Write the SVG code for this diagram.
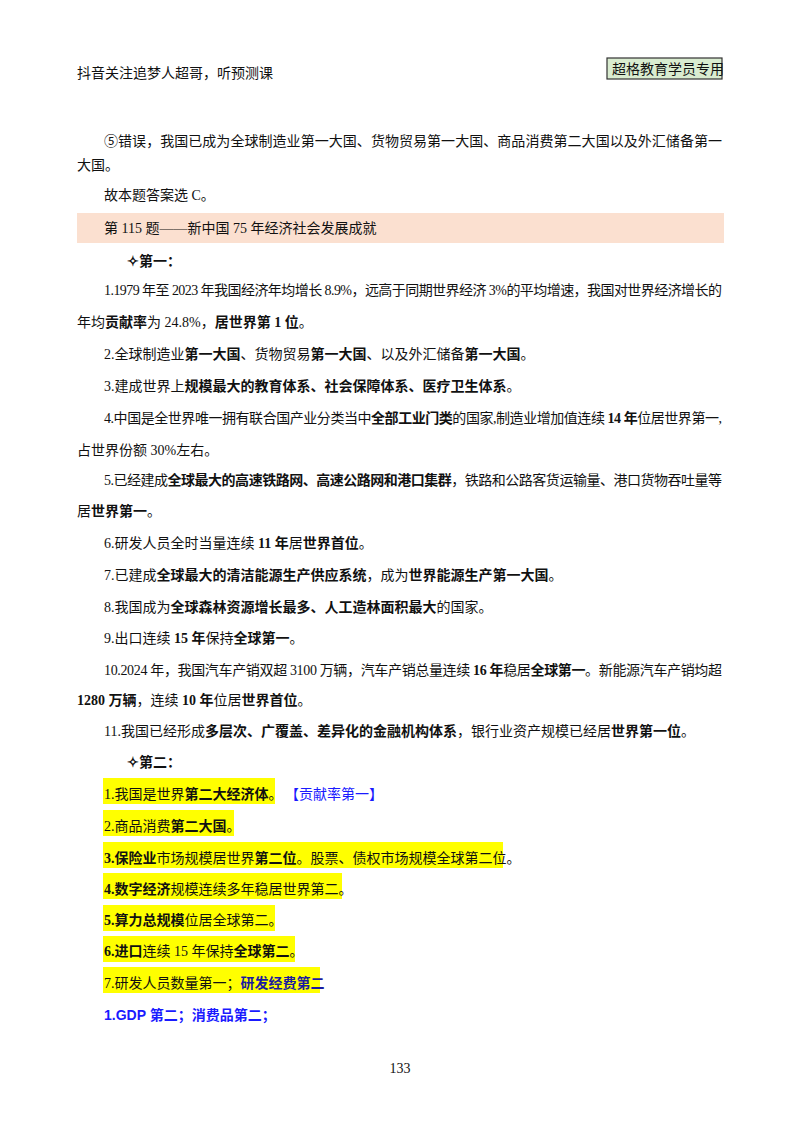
<svg xmlns="http://www.w3.org/2000/svg" width="800" height="1132" viewBox="0 0 800 1132">
<style>
text{font-family:"Liberation Serif","Noto Sans CJK SC",serif;font-size:14px;fill:#111}
.b{font-weight:bold}
.blue{fill:#1a1aff}
.hl{fill:#ffff00}
.s{font-family:"Liberation Sans","Noto Sans CJK SC",sans-serif}
</style>
<rect width="800" height="1132" fill="#fff"/>
<g id="header">
<text x="77" y="78">抖音关注追梦人超哥，听预测课</text>
<rect x="607" y="58" width="115" height="21" fill="#d9ecd0" stroke="#333" stroke-width="1.2"/>
<text x="612" y="74">超格教育学员专用</text>
</g>
<g id="intro">
<text x="104" y="146" textLength="618" lengthAdjust="spacing">⑤错误，我国已成为全球制造业第一大国、货物贸易第一大国、商品消费第二大国以及外汇储备第一</text>
<text x="77" y="170">大国。</text>
<text x="104" y="200">故本题答案选 C。</text>
<rect x="77" y="213" width="647" height="30" fill="#fbe0d0"/>
<text x="104" y="233">第 115 题——新中国 75 年经济社会发展成就</text>
</g>
<g id="first">
<text x="127" y="266" class="b">✧第一：</text>
<text x="104" y="295" textLength="618" lengthAdjust="spacing">1.1979 年至 2023 年我国经济年均增长 8.9%，远高于同期世界经济 3%的平均增速，我国对世界经济增长的</text>
<text x="77" y="327">年均<tspan class="b">贡献率</tspan>为 24.8%，<tspan class="b">居世界第 1 位</tspan>。</text>
<text x="104" y="359">2.全球制造业<tspan class="b">第一大国</tspan>、货物贸易<tspan class="b">第一大国</tspan>、以及外汇储备<tspan class="b">第一大国</tspan>。</text>
<text x="104" y="391">3.建成世界上<tspan class="b">规模最大的教育体系、社会保障体系、医疗卫生体系</tspan>。</text>
<text x="104" y="423" textLength="618" lengthAdjust="spacing">4.中国是全世界唯一拥有联合国产业分类当中<tspan class="b">全部工业门类</tspan>的国家,制造业增加值连续 <tspan class="b">14 年</tspan>位居世界第一,</text>
<text x="77" y="455">占世界份额 30%左右。</text>
<text x="104" y="485" textLength="618" lengthAdjust="spacing">5.已经建成<tspan class="b">全球最大的高速铁路网、高速公路网和港口集群</tspan>，铁路和公路客货运输量、港口货物吞吐量等</text>
<text x="77" y="516">居<tspan class="b">世界第一</tspan>。</text>
<text x="104" y="548">6.研发人员全时当量连续 <tspan class="b">11 年</tspan>居<tspan class="b">世界首位</tspan>。</text>
<text x="104" y="580">7.已建成<tspan class="b">全球最大的清洁能源生产供应系统</tspan>，成为<tspan class="b">世界能源生产第一大国</tspan>。</text>
<text x="104" y="612">8.我国成为<tspan class="b">全球森林资源增长最多、人工造林面积最大</tspan>的国家。</text>
<text x="104" y="643">9.出口连续 <tspan class="b">15 年</tspan>保持<tspan class="b">全球第一</tspan>。</text>
<text x="104" y="675" textLength="618" lengthAdjust="spacing">10.2024 年，我国汽车产销双超 3100 万辆，汽车产销总量连续 <tspan class="b">16 年</tspan>稳居<tspan class="b">全球第一</tspan>。新能源汽车产销均超</text>
<text x="77" y="705"><tspan class="b">1280 万辆</tspan>，连续 <tspan class="b">10 年</tspan>位居<tspan class="b">世界首位</tspan>。</text>
<text x="104" y="736">11.我国已经形成<tspan class="b">多层次、广覆盖、差异化的金融机构体系</tspan>，银行业资产规模已经居<tspan class="b">世界第一位</tspan>。</text>
</g>
<g id="second">
<text x="127" y="767" class="b">✧第二：</text>
<rect x="103" y="778" width="172" height="26" class="hl"/>
<text x="104" y="799">1.我国是世界<tspan class="b">第二大经济体</tspan>。</text>
<text x="285" y="799" class="blue s">【贡献率第一】</text>
<rect x="103" y="810" width="131" height="26" class="hl"/>
<text x="104" y="831">2.商品消费<tspan class="b">第二大国</tspan>。</text>
<rect x="103" y="842" width="400" height="26" class="hl"/>
<text x="104" y="863"><tspan class="b">3.保险业</tspan>市场规模居世界<tspan class="b">第二位</tspan>。股票、债权市场规模全球第二位。</text>
<rect x="103" y="873" width="239" height="26" class="hl"/>
<text x="104" y="894"><tspan class="b">4.数字经济</tspan>规模连续多年稳居世界第二。</text>
<rect x="103" y="905" width="172" height="26" class="hl"/>
<text x="104" y="925"><tspan class="b">5.算力总规模</tspan>位居全球第二。</text>
<rect x="103" y="936" width="192" height="26" class="hl"/>
<text x="104" y="956"><tspan class="b">6.进口</tspan>连续 15 年保持<tspan class="b">全球第二</tspan>。</text>
<rect x="103" y="967" width="217" height="26" class="hl"/>
<text x="104" y="988">7.研发人员数量第一；<tspan class="b" style="fill:#1a1aa0">研发经费第二</tspan></text>
<text x="104" y="1020" class="blue s b">1.GDP 第二；消费品第二；</text>
</g>
<text x="400" y="1073" text-anchor="middle" font-size="12">133</text>
</svg>
